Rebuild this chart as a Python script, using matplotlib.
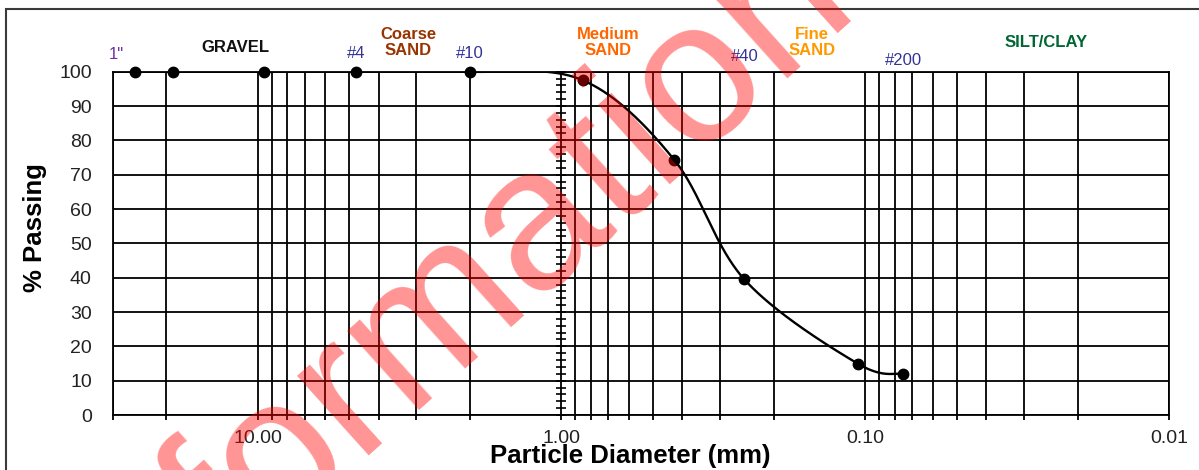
import numpy as np
import matplotlib.pyplot as plt
from matplotlib.patches import Rectangle
from matplotlib.ticker import LogLocator, FixedLocator, FixedFormatter, NullFormatter

plt.rcParams['font.family'] = ['Liberation Sans', 'DejaVu Sans']

# -----------------------------
# data (sieve analysis)
# -----------------------------
sieve_mm = [25.4, 19.0, 9.5, 4.75, 2.0, 0.85, 0.425, 0.25, 0.106, 0.075]
pct_passing = [100, 100, 100, 100, 100, 97.5, 74.3, 39.5, 15.0, 12.0]

x_ticks = [10, 1, 0.1, 0.01]
x_tick_labels = ["10.00", "1.00", "0.10", "0.01"]
y_ticks = list(range(0, 101, 10))

sieve_names = ['1"', '#4', '#10', '#40', '#200']
sieve_label_x = [29.3, 4.75, 2.0, 0.25, 0.075]
sieve_label_y = [1.049, 1.052, 1.052, 1.043, 1.034]

soil_names = ["GRAVEL", "Coarse\nSAND", "Medium\nSAND", "Fine\nSAND", "SILT/CLAY"]
soil_label_x = [11.8, 3.2, 0.7, 0.15, 0.0254]
soil_label_y = [1.070, 1.085, 1.085, 1.085, 1.084]
soil_colors = ["#111111", "#993300", "#FF6600", "#FF9900", "#006633"]


def smooth_curve(xs, ys, n=60):
    # catmull-rom through the points, in log-x space (like excel smoothed line)
    p = np.column_stack([np.log10(xs), np.asarray(ys, float)])
    pts = np.vstack([p[0], p, p[-1]])
    t = np.linspace(0, 1, n)[:, None]
    h00 = 2 * t**3 - 3 * t**2 + 1
    h10 = t**3 - 2 * t**2 + t
    h01 = -2 * t**3 + 3 * t**2
    h11 = t**3 - t**2
    segs = []
    for i in range(1, len(pts) - 2):
        p0, p1, p2, p3 = pts[i - 1], pts[i], pts[i + 1], pts[i + 2]
        m1 = (p2 - p0) / 2
        m2 = (p3 - p1) / 2
        segs.append(h00 * p1 + h10 * m1 + h01 * p2 + h11 * m2)
    c = np.vstack(segs)
    return 10 ** c[:, 0], c[:, 1]


W, H = 1199, 470
fig = plt.figure(figsize=(W / 100, H / 100), dpi=100)
ax = fig.add_axes([112.7 / W, 1 - 415 / H, (1169 - 112.7) / W, (415 - 71.7) / H])

# outer frame
fig.add_artist(Rectangle((6 / W, -0.2), 1.2, 1.2 - 8.5 / H, transform=fig.transFigure,
                         fill=False, ec="#3a3a3a", lw=1.5))

#----------------------------------------
# axes / grid
#----------------------------------------
ax.set_xscale("log")
ax.set_xlim(30, 0.01)
ax.set_ylim(0, 100)

ax.xaxis.set_major_locator(FixedLocator(x_ticks))
ax.xaxis.set_major_formatter(FixedFormatter(x_tick_labels))
ax.xaxis.set_minor_locator(LogLocator(base=10, subs=np.arange(2, 10), numticks=20))
ax.xaxis.set_minor_formatter(NullFormatter())
ax.set_yticks(y_ticks)

ax.grid(True, which="both", axis="x", color="black", lw=1.3)
ax.grid(True, which="major", axis="y", color="black", lw=1.3)
ax.set_axisbelow(True)

ax.tick_params(axis="x", which="both", direction="out", length=3.6, width=1.3,
               pad=7, labelsize=14, colors="black", labelcolor="#222222")
ax.tick_params(axis="y", length=0, pad=15, labelsize=14, labelcolor="#222222")
for s in ax.spines.values():
    s.set_linewidth(1.3)
    s.set_color("black")

# small crosses on the 1.00 line
ys = np.arange(0, 101, 2)
ax.plot(np.ones_like(ys), ys, ls="none", marker="_", ms=7.5, mew=1.2,
        color="black", clip_on=False, zorder=3)

#----------------------------------------
# gradation curve
#----------------------------------------
cx, cy = smooth_curve(sieve_mm, pct_passing)
ax.plot(cx, cy, color="black", lw=1.7, zorder=4)
ax.plot(sieve_mm, pct_passing, ls="none", marker="o", ms=7.5, color="black",
        clip_on=False, zorder=5)

#----------------------------------------
# labels above the plot
#----------------------------------------
tr = ax.get_xaxis_transform()
for name, x, y in zip(sieve_names, sieve_label_x, sieve_label_y):
    col = "#7030A0" if name == '1"' else "#333399"
    ax.text(x, y, name, transform=tr, ha="center", va="center", fontsize=12,
            color=col, clip_on=False)
for name, x, y, col in zip(soil_names, soil_label_x, soil_label_y, soil_colors):
    ax.text(x, y, name, transform=tr, ha="center", va="center", fontsize=12,
            fontweight="bold", color=col, linespacing=1.1, clip_on=False)

fig.text(35 / W, 1 - 228 / H, "% Passing", rotation=90, ha="center", va="center",
         fontsize=18.5, fontweight="bold")
fig.text(630 / W, 1 - 456 / H, "Particle Diameter (mm)", ha="center", va="center",
         fontsize=18.5, fontweight="bold")

# watermark
fig.text(547 / W, 1 - 293 / H, "formation", rotation=42, rotation_mode="anchor",
         ha="center", va="baseline", fontsize=146, color="red", alpha=0.42, zorder=10)

fig.savefig("out.png", dpi=100)
